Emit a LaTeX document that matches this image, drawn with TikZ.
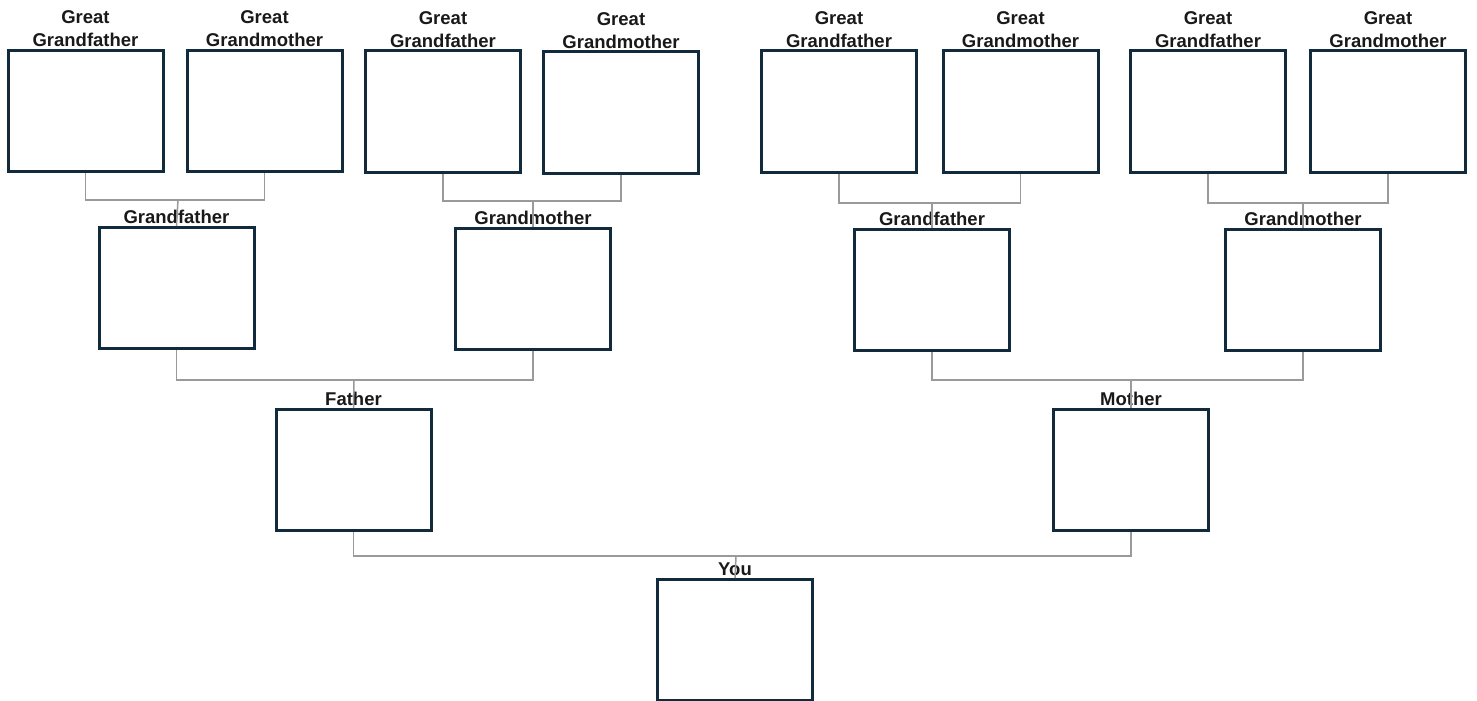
\documentclass[tikz,border=0pt]{standalone}
\usepackage{fontspec}
\setmainfont{Liberation Sans}
\usetikzlibrary{positioning}

\definecolor{boxline}{HTML}{112B3C}
\definecolor{linkgray}{HTML}{9A9A9A}

\begin{document}
\begin{tikzpicture}[
    x=1pt, y=-1pt,
    person/.style={rectangle, draw=boxline, line width=3pt, fill=white, minimum width=155pt, minimum height=121pt, inner sep=0pt},
    lbl/.style={font=\fontsize{18.5}{23}\selectfont\bfseries, align=center, inner sep=0pt, text=black!90},
    link/.style={draw=linkgray, line width=1.5pt}
]
\useasboundingbox (0,0) rectangle (1477,701);

% ---- great grandparents ----
\node[person] (gg1) at (85.5,111) {};
\node[person] (gg2) at (264.5,111) {};
\node[person] (gg3) at (443,111.5) {};
\node[person] (gg4) at (621,112.5) {};
\node[person] (gg5) at (839,111.5) {};
\node[person] (gg6) at (1020.5,111.5) {};
\node[person] (gg7) at (1208,111.5) {};
\node[person] (gg8) at (1388,111.5) {};

\node[lbl, above=2pt of gg1] (gg1-t) {Great\\Grandfather};
\node[lbl, above=2pt of gg2] (gg2-t) {Great\\Grandmother};
\node[lbl, above=2pt of gg3] (gg3-t) {Great\\Grandfather};
\node[lbl, above=2pt of gg4] (gg4-t) {Great\\Grandmother};
\node[lbl, above=2pt of gg5] (gg5-t) {Great\\Grandfather};
\node[lbl, above=2pt of gg6] (gg6-t) {Great\\Grandmother};
\node[lbl, above=2pt of gg7] (gg7-t) {Great\\Grandfather};
\node[lbl, above=2pt of gg8] (gg8-t) {Great\\Grandmother};

% ---- grandparents ----
\node[person] (gf1) at (176.5,288) {};
\node[person] (gm1) at (533,288.5) {};
\node[person] (gf2) at (932,290) {};
\node[person] (gm2) at (1303,289.5) {};

\node[lbl, above=2pt of gf1] (gf1-t) {Grandfather};
\node[lbl, above=2pt of gm1] (gm1-t) {Grandmother};
\node[lbl, above=2pt of gf2] (gf2-t) {Grandfather};
\node[lbl, above=2pt of gm2] (gm2-t) {Grandmother};

% ---- parents ----
\node[person] (fa) at (353.5,470) {};
\node[person] (mo) at (1131,469.5) {};

\node[lbl, above=2pt of fa] (fa-t) {Father};
\node[lbl, above=2pt of mo] (mo-t) {Mother};

% ---- you ----
\node[person] (you) at (735,640) {};
\node[lbl, above=2pt of you] (you-t) {You};

% ---- junctions ----
\coordinate (j1) at (178,200);
\coordinate (j2) at (533,201);
\coordinate (j3) at (932,203);
\coordinate (j4) at (1303,203);
\coordinate (j5) at (354,380);
\coordinate (j6) at (1131,380);
\coordinate (j7) at (736,556);

% ---- links ----
\draw[link] (gg1.south) |- (j1) -| (gg2.south);
\draw[link] (j1) -- (gf1.north);
\draw[link] (gg3.south) |- (j2) -| (gg4.south);
\draw[link] (j2) -- (gm1.north);
\draw[link] (gg5.south) |- (j3) -| (gg6.south);
\draw[link] (j3) -- (gf2.north);
\draw[link] (gg7.south) |- (j4) -| (gg8.south);
\draw[link] (j4) -- (gm2.north);

\draw[link] (gf1.south) |- (j5) -| (gm1.south);
\draw[link] (j5) -- (fa.north);
\draw[link] (gf2.south) |- (j6) -| (gm2.south);
\draw[link] (j6) -- (mo.north);

\draw[link] (fa.south) |- (j7) -| (mo.south);
\draw[link] (j7) -- (you.north);

\end{tikzpicture}
\end{document}
